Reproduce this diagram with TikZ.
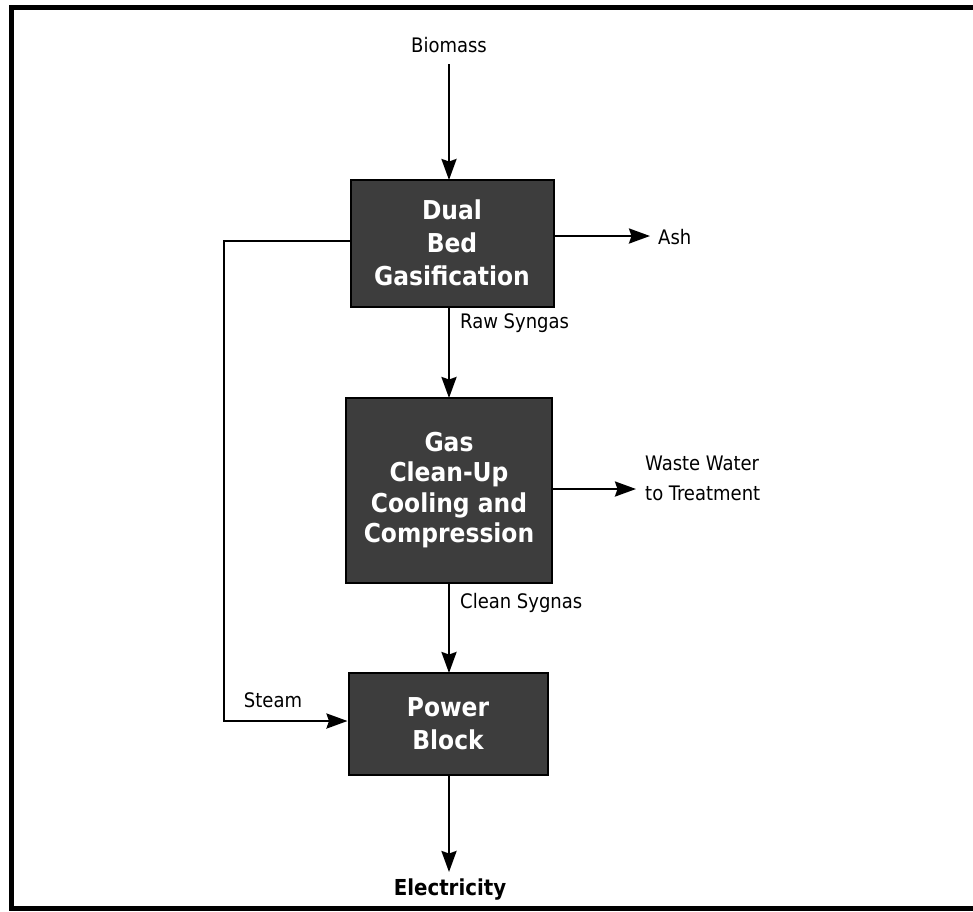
\documentclass[tikz,border=0pt]{standalone}
\usepackage{fontspec}
\setmainfont{DejaVu Sans Condensed}
\usetikzlibrary{arrows.meta}
\begin{document}
\begin{tikzpicture}[x=1pt,y=-1pt,
  proc/.style={draw=black,line width=2pt,fill=black!76,text=white,font=\fontsize{26}{33}\selectfont\bfseries,align=center,inner sep=0pt},
  lab/.style={font=\fontsize{20}{30}\selectfont,text=black,inner sep=0pt},
  flow/.style={line width=2.5pt,-{Stealth[length=21pt,width=15pt,inset=2.5pt]}},
  frame/.style={line width=5pt,black}]
\useasboundingbox (0,0) rectangle (973,911);
\draw[frame] (973,7.5) -- (11.5,7.5) -- (11.5,908.5) -- (973,908.5);

\node[proc,minimum width=203pt,minimum height=127pt] (g1) at (452,243) {Dual\\Bed\\Gasification};
\node[proc,minimum width=206pt,minimum height=185pt,font=\fontsize{26}{30.5}\selectfont\bfseries] (g2) at (449,490) {Gas\\Clean-Up\\Cooling and\\Compression};
\node[proc,minimum width=199pt,minimum height=102pt] (g3) at (448,724) {Power\\Block};

\node[lab] (bio) at (449,45) {Biomass};
\node[lab,anchor=west] (ash) at (658,237) {Ash};
\node[lab,anchor=west] (raw) at (460,323) {Raw Syngas};
\node[lab,anchor=west,align=left] (ww) at (645,478) {Waste Water\\to Treatment};
\node[lab,anchor=west] (cln) at (460,603) {Clean Sygnas};
\node[lab] (stm) at (273,700) {Steam};
\node[lab,font=\fontsize{22}{26}\selectfont\bfseries] (el) at (450,889) {Electricity};

\coordinate (ashend) at (650,236);
\coordinate (wwend) at (636,489);
\coordinate (elend) at (449,872);
\coordinate (lp1) at (224,241);
\coordinate (lp2) at (224,721);

\draw[flow] (449,64) -- (449,180);
\draw[flow] (g1.east |- ashend) -- (ashend);
\draw[flow] (449,307) -- (449,398);
\draw[flow] (g2.east |- wwend) -- (wwend);
\draw[flow] (449,583) -- (449,673);
\draw[flow] (449,775) -- (elend);
\draw[flow] (g1.west |- lp1) -- (lp1) -- (lp2) -- (g3.west |- lp2);
\end{tikzpicture}
\end{document}
